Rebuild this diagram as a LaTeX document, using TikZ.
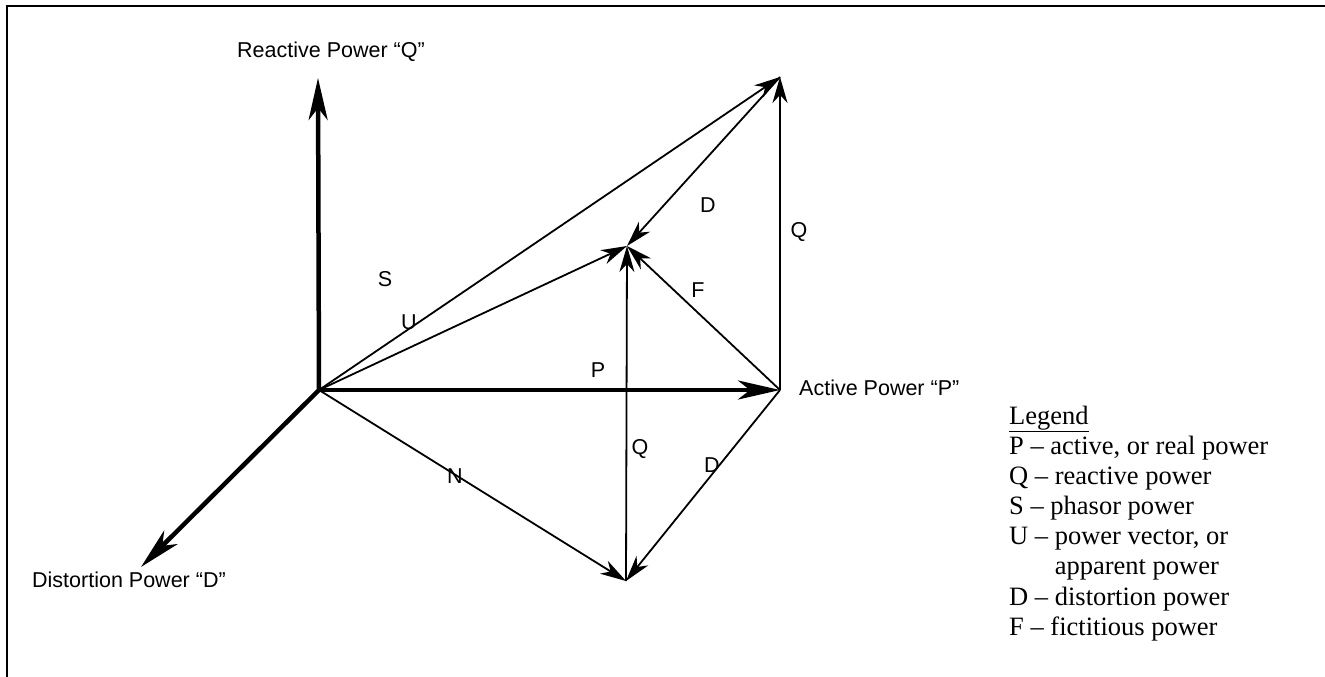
\documentclass[tikz,border=0pt]{standalone}
\usepackage{fontspec}
\setmainfont{Liberation Serif}
\newfontfamily\arialf{Liberation Sans}
\usetikzlibrary{arrows.meta}
\begin{document}
\begin{tikzpicture}[x=1pt,y=-1pt,
  axis/.style={line width=4.5pt,-{Stealth[length=42pt,width=19pt,inset=12pt]}},
  vec/.style={line width=1.8pt,-{Stealth[length=26pt,width=15pt,inset=8pt]}},
  lbl/.style={font=\arialf\fontsize{21.5}{25}\selectfont,inner sep=0pt},
  leg/.style={font=\fontsize{26.5}{30}\selectfont,inner sep=0pt,anchor=base west}]
\useasboundingbox (0,0) rectangle (1325,677);
% frame
\draw[line width=2.2pt] (7,677) -- (7,6) -- (1325,6);
% points
\coordinate (O) at (319,390);
\coordinate (Pt) at (780,390);
\coordinate (T) at (780,77);
\coordinate (Up) at (627,246);
\coordinate (B) at (626,581);
\coordinate (Qt) at (318,78);
\coordinate (Dt) at (141,567);
% thin vectors
\draw[vec] (O) -- (T);
\draw[vec] (O) -- (Up);
\draw[vec] (T) -- (Up);
\draw[vec] (Pt) -- (T);
\draw[vec] (Pt) -- (Up);
\draw[vec] (B) -- (Up);
\draw[vec] (O) -- (B);
\draw[vec] (Pt) -- (B);
% axes
\draw[axis] (O) -- (Qt);
\draw[axis] (O) -- (Pt);
\draw[axis] (O) -- (Dt);
% axis labels
\node[lbl,anchor=base west] (lq) at (237,58) {Reactive Power “Q”};
\node[lbl,anchor=base west] (ld) at (32,587) {Distortion Power “D”};
\node[lbl,anchor=base west] (lp) at (799,395) {Active Power “P”};
% vector labels
\node[lbl] (ls) at (385,279) {S};
\node[lbl] (lu) at (409,322) {U};
\node[lbl] (ld1) at (708,205) {D};
\node[lbl] (lq1) at (799,232) {Q};
\node[lbl] (lf) at (698,290) {F};
\node[lbl] (lp1) at (598,370) {P};
\node[lbl] (lq2) at (640,449) {Q};
\node[lbl] (ld2) at (712,465) {D};
\node[lbl] (ln) at (455,476) {N};
% legend
\node[leg] (g0) at (1009,424) {\underline{Legend}};
\node[leg] (g1) at (1009,454) {P – active, or real power};
\node[leg] (g2) at (1009,484) {Q – reactive power};
\node[leg] (g3) at (1009,514) {S – phasor power};
\node[leg] (g4) at (1009,544) {U – power vector, or};
\node[leg] (g5) at (1009,574) {\phantom{U – }apparent power};
\node[leg] (g6) at (1009,605) {D – distortion power};
\node[leg] (g7) at (1009,635) {F – fictitious power};
\end{tikzpicture}
\end{document}
